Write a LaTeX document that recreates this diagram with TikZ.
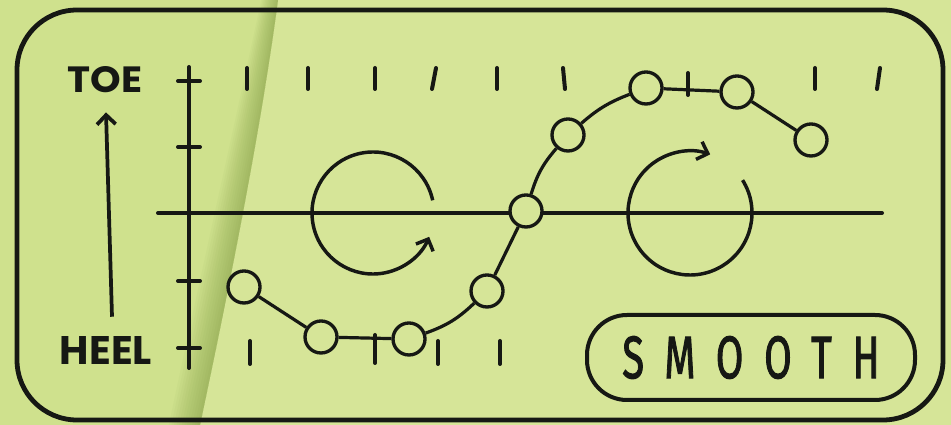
\documentclass[tikz,border=0pt]{standalone}
\usepackage{fontspec}
\usepackage{graphicx}
\usetikzlibrary{arrows.meta,calc}
\newfontfamily\labelfont{Poppins}
\newfontfamily\smoothfont{Fira Sans}[LetterSpace=52, FakeBold=2]
\definecolor{paper}{RGB}{214,229,152}
\definecolor{paperleft}{RGB}{207,225,141}
\definecolor{foldshade}{RGB}{110,140,50}
\definecolor{ink}{RGB}{22,24,20}
\begin{document}
\begin{tikzpicture}[x=0.75pt,y=0.75pt,
  frameline/.style={draw=ink, line width=3.6pt, rounded corners=45pt},
  axisline/.style={draw=ink, line width=3pt, line cap=round},
  tickmark/.style={draw=ink, line width=3pt, line cap=round},
  bead/.style={circle, draw=ink, fill=paper, line width=2.5pt, minimum size=24pt, inner sep=0pt},
  link/.style={draw=ink, line width=2.4pt},
  spin/.style={draw=ink, line width=2.6pt, -{Straight Barb[length=7pt,width=14pt]}},
  tagtext/.style={inner sep=0pt, text=ink}]
\useasboundingbox (0,0) rectangle (951,425);
% paper
\fill[paper] (0,0) rectangle (951,425);
\fill[paperleft] (0,0) -- (0,425) -- (278,425) .. controls (262,305) and (235,165) .. (200,0) -- cycle;
\foreach \i in {1,...,12}{
  \pgfmathsetmacro\sb{2.6*\i}
  \pgfmathsetmacro\st{1.4*\i}
  \pgfmathsetmacro\sm{2.2*\i}
  \fill[foldshade, opacity=0.045] (278,425) .. controls (262,305) and (235,165) .. (200,0)
     -- ({200-\sb},0) .. controls ({235-\sb},165) and ({262-\sm},305) .. ({278-\st},425) -- cycle;
}
% frame
\draw[frameline] (17,5) rectangle (943,415);
% axes
\draw[axisline] (189,358) -- (189,57);
\draw[axisline] (158,212) -- (882,212);
\foreach \y in {344,278,144,77} \draw[tickmark] (178,\y) -- (200,\y);
% top ticks
\foreach \xa/\xb in {247/247,308/308,375/375,436/432,497/497,563/565,815/815,880/877}
  \draw[tickmark] (\xa,357) -- (\xb,336);
\draw[tickmark] (688,352) -- (688,330);
% bottom ticks
\foreach \x in {250,438,500} \draw[tickmark] (\x,84) -- (\x,61);
\draw[tickmark] (375,90) -- (375,62);
% rotation arrows
\draw[spin] (373,212) ++(12:61) arc[start angle=12, end angle=337, radius=61];
\draw[spin] (690,212) ++(32:62) arc[start angle=32, end angle=-289, radius=62];
% beads
\node[bead] (c1) at (244,138) {};
\node[bead] (c2) at (321,88) {};
\node[bead] (c3) at (409,86) {};
\node[bead] (c4) at (487,134) {};
\node[bead] (c5) at (526,214) {};
\node[bead] (c6) at (568,290) {};
\node[bead] (c7) at (646,337) {};
\node[bead] (c8) at (737,333) {};
\node[bead] (c9) at (811,285) {};
\draw[link] (c1) -- (c2);
\draw[link] (c2) -- (c3);
\draw[link] (c3) to[bend right=12] (c4);
\draw[link] (c4) -- (c5);
\draw[link] (c5) to[bend left=12] (c6);
\draw[link] (c6) to[bend left=10] (c7);
\draw[link] (c7) -- (c8);
\draw[link] (c8) -- (c9);
% labels
\node[tagtext] (toe) at (105,345) {\resizebox{56pt}{19.5pt}{\labelfont\bfseries TOE}};
\node[tagtext] (heel) at (106,74) {\resizebox{69pt}{21pt}{\labelfont\bfseries HEEL}};
\draw[draw=ink, line width=2.8pt, -{Straight Barb[length=7pt,width=14pt]}]
  ($(heel.north)+(6,20)$) -- ($(toe.south)+(1,-19)$);
\node[draw=ink, line width=3pt, rounded corners=30pt, minimum width=246pt, minimum height=63.75pt, inner sep=0pt, text=ink]
  (smooth) at (751,67.5) {\resizebox{193pt}{31.5pt}{\smoothfont SMOOTH}};
\end{tikzpicture}
\end{document}
